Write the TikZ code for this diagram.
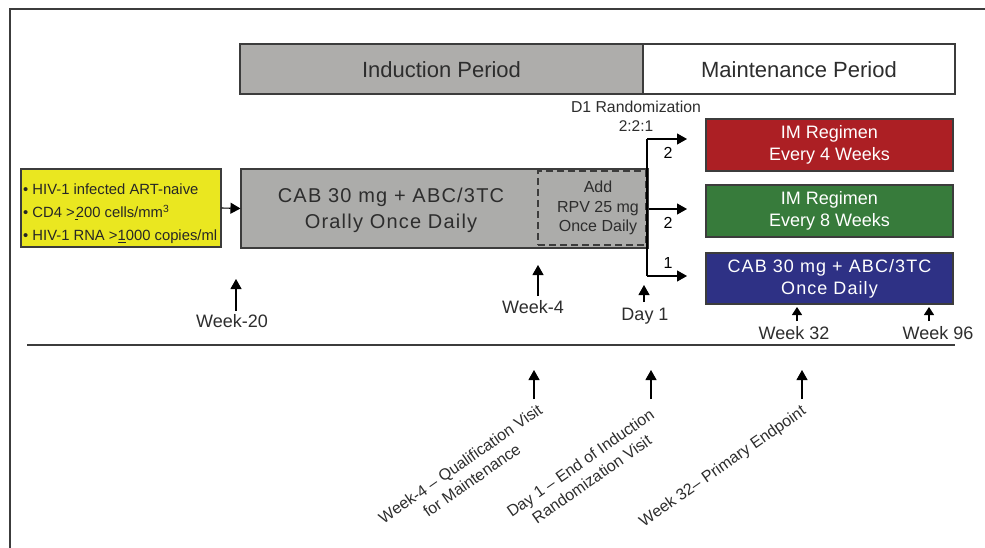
\documentclass[tikz,border=0pt]{standalone}
\usepackage{fontspec}
\setmainfont{Liberation Sans}
\newfontfamily\spacedfont[LetterSpace=6]{Liberation Sans}
\usetikzlibrary{arrows.meta}
\definecolor{indgray}{RGB}{174,173,171}
\definecolor{boxgray}{RGB}{172,172,170}
\definecolor{crityellow}{RGB}{234,231,32}
\definecolor{regred}{RGB}{172,31,36}
\definecolor{reggreen}{RGB}{55,123,59}
\definecolor{regblue}{RGB}{46,49,133}
\definecolor{txt}{RGB}{45,45,45}
\definecolor{edge}{RGB}{60,60,60}
\tikzset{
  fbox/.style={draw=edge, line width=1.1pt, inner sep=0pt},
  hdr/.style={text=txt, font={\fontsize{22}{25}\selectfont}},
  regbox/.style={fbox, minimum width=247pt, text=white, align=center,
    font={\fontsize{18}{22}\selectfont}},
  arr/.style={-{Triangle[length=10pt,width=11pt]}, line width=1.1pt, draw=black},
  sarr/.style={-{Triangle[length=8pt,width=10pt]}, line width=1.1pt, draw=black},
  wk/.style={text=txt, font={\fontsize{18}{20}\selectfont}, inner sep=0pt},
  rot/.style={text=txt, font={\fontsize{16}{20}\selectfont}, align=center, rotate=35, inner sep=0pt},
}
\begin{document}
\begin{tikzpicture}[x=1pt,y=-1pt]
\useasboundingbox (0,0) rectangle (985,548);
\fill[white] (0,0) rectangle (985,548);
% frame
\draw[edge, line width=1.6pt] (10,548) -- (10,9) -- (985,9);

% headers
\node[fbox, fill=indgray, minimum width=403pt, minimum height=50pt] (ind) at (441.5,69) {};
\node[hdr] (indt) at (441.5,70) {Induction Period};
\node[fbox, fill=white, minimum width=312pt, minimum height=50pt] (mnt) at (799,69) {};
\node[hdr] (mntt) at (799,70) {Maintenance Period};

\node[text=txt, font={\fontsize{15.8}{18}\selectfont}] (d1r) at (636,107) {D1 Randomization};
\node[text=txt, font={\fontsize{15.5}{18}\selectfont}] (ratio) at (636,126) {2:2:1};

% criteria box
\node[fbox, fill=crityellow, minimum width=200pt, minimum height=78pt] (crit) at (121,208) {};
\node[anchor=west, text=black!85, align=left, font={\fontsize{14.8}{23}\selectfont}, inner sep=0pt] (critt) at (23,214)
  {• HIV-1 infected ART-naive\\
   • CD4 >\underline{\kern3pt}\kern-2pt200 cells/mm\textsuperscript{3}\\
   • HIV-1 RNA >\underline{1}000 copies/ml};

% induction box
\node[fbox, fill=boxgray, minimum width=407pt, minimum height=79pt] (main) at (444.5,208.5) {};
\node[text=txt, align=center, font={\spacedfont\fontsize{20}{26}\selectfont}, inner sep=0pt] (maint) at (391,210)
  {CAB 30 mg + ABC/3TC\\Orally Once Daily};
\node[draw=edge, dashed, dash pattern=on 7pt off 4pt, line width=1.1pt, minimum width=108pt, minimum height=74pt, inner sep=0pt] (rpv) at (592,208) {};
\node[text=txt, align=center, font={\fontsize{16}{19.5}\selectfont}, inner sep=0pt] (rpvt) at (598,208)
  {Add\\RPV 25 mg\\Once Daily};

\draw[arr] (crit.east) -- (main.west);

% randomization branch
\coordinate (bt) at (647,139);
\coordinate (bb) at (647,276);
\coordinate (e1) at (687,139);
\coordinate (e2) at (687,209);
\coordinate (e3) at (687,276);
\draw[line width=1.1pt] (bt) -- (bb);
\draw[arr] (bt) -- (e1);
\draw[arr] (main.east |- e2) -- (e2);
\draw[arr] (bb) -- (e3);
\node[text=black, font={\fontsize{16}{18}\selectfont}] (n1) at (668,153) {2};
\node[text=black, font={\fontsize{16}{18}\selectfont}] (n2) at (668,223) {2};
\node[text=black, font={\fontsize{16}{18}\selectfont}] (n3) at (668,263) {1};

% regimen boxes
\node[regbox, fill=regred, minimum height=52pt] (red) at (829.5,145) {IM Regimen\\Every 4 Weeks};
\node[regbox, fill=reggreen, minimum height=52pt] (green) at (829.5,211) {IM Regimen\\Every 8 Weeks};
\node[regbox, fill=regblue, minimum height=51pt, font={\spacedfont\fontsize{18}{22}\selectfont}] (blue) at (829.5,278.5) {CAB 30 mg + ABC/3TC\\Once Daily};

% week markers
\node[wk] (w20) at (232,321) {Week-20};
\coordinate (w20a) at (236,311); \coordinate (w20b) at (236,279);
\draw[arr] (w20a) -- (w20b);
\node[wk] (w4) at (533,307) {Week-4};
\coordinate (w4a) at (538,296); \coordinate (w4b) at (538,265);
\draw[arr] (w4a) -- (w4b);
\node[wk] (day1) at (645,316) {Day 1};
\coordinate (d1a) at (644,302); \coordinate (d1b) at (644,285);
\draw[arr] (d1a) -- (d1b);
\node[wk] (w32) at (794,333) {Week 32};
\coordinate (w32a) at (797,321); \coordinate (w32b) at (797,307);
\draw[sarr] (w32a) -- (w32b);
\node[wk] (w96) at (938,333) {Week 96};
\coordinate (w96a) at (929,321); \coordinate (w96b) at (929,307);
\draw[sarr] (w96a) -- (w96b);

% timeline rule
\coordinate (tl) at (27,345); \coordinate (tr) at (955,345);
\draw[edge, line width=1.4pt] (tl) -- (tr);

% visit arrows
\coordinate (v1a) at (534,399); \coordinate (v1b) at (534,370);
\coordinate (v2a) at (651,399); \coordinate (v2b) at (651,370);
\coordinate (v3a) at (802,399); \coordinate (v3b) at (802,370);
\draw[arr] (v1a) -- (v1b);
\draw[arr] (v2a) -- (v2b);
\draw[arr] (v3a) -- (v3b);

% rotated visit labels
\node[rot] (q1) at (466,472) {Week-4 – Qualification Visit\\for Maintenance};
\node[rot] (q2) at (586,471) {Day 1 – End of Induction\\Randomization Visit};
\node[rot] (q3) at (723,467) {Week 32– Primary Endpoint};
\end{tikzpicture}
\end{document}
